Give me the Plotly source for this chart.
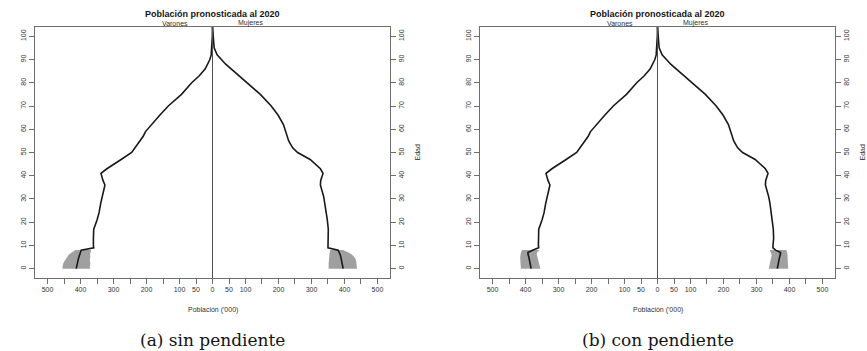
import plotly.graph_objects as go

# ---------------- data (thousands of people) ----------------
AGES_YOUNG = [0, 1, 2, 3, 4, 5, 6, 7, 8]
AGES_OLD = [9, 10, 13, 17, 21, 24, 28, 31, 33, 35, 36, 38, 40, 41, 43, 45, 47, 50,
            52, 55, 57, 59, 62, 66, 70, 75, 80, 83, 86, 88, 90, 92, 95, 98, 100, 104]

MALE_OLD = [360, 361, 361, 360, 350, 344, 339, 334, 330, 326, 326, 332, 337, 338, 320, 297, 277, 245,
            235, 220, 210, 203, 185, 160, 134, 94, 63, 40, 22, 15, 8, 4, 2, 1, 0.5, 0]
FEMALE_OLD = [350, 350, 352, 351, 348, 345, 341, 337, 333, 329, 327, 328, 333, 335, 327, 313, 296, 258,
              243, 231, 227, 221, 215, 199, 178, 145, 105, 78, 56, 40, 27, 14, 5, 3, 1.5, 0]

# panel (a) sin pendiente
MALE_A_YOUNG = [413, 412, 410, 409, 407, 405, 403, 401, 398]
FEMALE_A_YOUNG = [396, 395, 394, 392, 391, 389, 387, 385, 381]
MALE_A_LOW = [371, 372, 370, 371, 372, 370, 371, 370, 368]
MALE_A_HIGH = [455, 455, 453, 450, 446, 442, 436, 427, 415]
FEMALE_A_LOW = [352, 352, 352, 353, 353, 354, 354, 355, 357]
FEMALE_A_HIGH = [438, 438, 437, 436, 434, 430, 423, 412, 396]

# panel (b) con pendiente
MALE_B_YOUNG = [383, 384, 386, 387, 389, 390, 392, 393, 377]
FEMALE_B_YOUNG = [363, 364, 366, 367, 369, 370, 372, 373, 358]
MALE_B_LOW = [355, 356, 358, 360, 362, 364, 366, 365, 358]
MALE_B_HIGH = [414, 415, 416, 416, 416, 416, 415, 414, 410]
FEMALE_B_LOW = [337, 338, 339, 341, 343, 345, 346, 344, 340]
FEMALE_B_HIGH = [396, 396, 396, 396, 395, 395, 394, 393, 390]

X_TICKS = list(range(-500, 501, 50))
X_LABELED = [500, 400, 300, 200, 100, 50, 0]
Y_TICKS = list(range(0, 101, 10))

TITLE = "Población pronosticada al 2020"
CAPTIONS = ["(a) sin pendiente", "(b) con pendiente"]

# ---------------- figure ----------------
W, H = 867, 351
BAND = "rgb(160,160,160)"
LINE = "rgb(25,25,25)"
AXC = "rgb(110,110,110)"
TXC = "rgb(50,50,50)"
SANS = "Liberation Sans, Arial, sans-serif"

fig = go.Figure()

panels = [
    dict(xa="x", ya="y", ya2="y2", male_young=MALE_A_YOUNG, female_young=FEMALE_A_YOUNG,
         ml=MALE_A_LOW, mh=MALE_A_HIGH, fl=FEMALE_A_LOW, fh=FEMALE_A_HIGH, px=(35, 390)),
    dict(xa="x2", ya="y3", ya2="y4", male_young=MALE_B_YOUNG, female_young=FEMALE_B_YOUNG,
         ml=MALE_B_LOW, mh=MALE_B_HIGH, fl=FEMALE_B_LOW, fh=FEMALE_B_HIGH, px=(480, 835)),
]

for p in panels:
    # uncertainty bands for the youngest ages
    for lo, hi, sign in [(p["ml"], p["mh"], -1), (p["fl"], p["fh"], 1)]:
        xs = [sign * v for v in hi] + [sign * v for v in lo[::-1]]
        ys = AGES_YOUNG + AGES_YOUNG[::-1]
        fig.add_trace(go.Scatter(x=xs, y=ys, fill="toself", fillcolor=BAND, mode="lines",
                                 line=dict(width=0, color=BAND), xaxis=p["xa"], yaxis=p["ya"],
                                 showlegend=False, hoverinfo="skip"))
    # pyramid lines (female line on the right-hand twin axis, same range)
    ages = AGES_YOUNG + AGES_OLD
    male = [-v for v in p["male_young"] + MALE_OLD]
    female = p["female_young"] + FEMALE_OLD
    for vals, ya in ((male, p["ya"]), (female, p["ya2"])):
        fig.add_trace(go.Scatter(x=vals, y=ages, mode="lines",
                                 line=dict(color=LINE, width=1.6),
                                 xaxis=p["xa"], yaxis=ya, showlegend=False))

ticktext = [str(abs(v)) if abs(v) in X_LABELED else "" for v in X_TICKS]

def xaxis_def(px, anchor):
    return dict(domain=[px[0] / W, px[1] / W], range=[-538, 538], anchor=anchor,
                tickvals=X_TICKS, ticktext=ticktext, ticks="outside", ticklen=5,
                tickcolor=AXC, showline=True, linecolor=AXC, linewidth=1, mirror=True,
                showgrid=False, zeroline=False, tickfont=dict(size=7, color=TXC, family=SANS),
                fixedrange=True, automargin=False)

YDOM = [(H - 278) / H, (H - 27) / H]

def yaxis_def(anchor, side="left", overlay=None):
    d = dict(domain=YDOM, range=[-4, 104], anchor=anchor, side=side,
             tickvals=Y_TICKS, ticks="outside", ticklen=5, tickcolor=AXC, tickangle=-90,
             showline=True, linecolor=AXC, linewidth=1, showgrid=False, zeroline=False,
             tickfont=dict(size=7, color=TXC, family=SANS), fixedrange=True, automargin=False)
    if overlay:
        d["overlaying"] = overlay
    return d

fig.update_layout(
    width=W, height=H, margin=dict(l=0, r=0, t=0, b=0, autoexpand=False),
    paper_bgcolor="white", plot_bgcolor="white",
    xaxis=xaxis_def(panels[0]["px"], "y"),
    xaxis2=xaxis_def(panels[1]["px"], "y3"),
    yaxis=yaxis_def("x"),
    yaxis2=yaxis_def("x", "right", "y"),
    yaxis3=yaxis_def("x2"),
    yaxis4=yaxis_def("x2", "right", "y3"),
)

annotations = []
shapes = []
for p, cap in zip(panels, CAPTIONS):
    xa = p["xa"]
    shapes.append(dict(type="line", xref=xa, yref=f"{p['ya']} domain", x0=0, x1=0, y0=0, y1=1,
                       line=dict(color="rgb(80,80,80)", width=1)))
    annotations += [
        dict(text=f"<b>{TITLE}</b>", x=0, xref=xa, y=1 - 14 / H, yref="paper", showarrow=False,
             font=dict(size=9, color="rgb(20,20,20)", family=SANS), xanchor="center", yanchor="middle"),
        dict(text="Varones", x=-115, xref=xa, y=1 - 23 / H, yref="paper", showarrow=False,
             font=dict(size=7, color=TXC, family=SANS), xanchor="center", yanchor="middle"),
        dict(text="Mujeres", x=115, xref=xa, y=1 - 23 / H, yref="paper", showarrow=False,
             font=dict(size=7, color=TXC, family=SANS), xanchor="center", yanchor="middle"),
        dict(text="Población ('000)", x=0, xref=xa, y=1 - 310 / H, yref="paper", showarrow=False,
             font=dict(size=7, color=TXC, family=SANS), xanchor="center", yanchor="middle"),
        dict(text="Edad", x=(p["px"][1] + 27) / W, xref="paper", y=50, yref=p["ya"], showarrow=False,
             textangle=-90, font=dict(size=7, color=TXC, family=SANS), xanchor="center", yanchor="middle"),
        dict(text=cap, x=0, xref=xa, y=1 - 340 / H, yref="paper", showarrow=False,
             font=dict(size=17, color="rgb(20,20,20)", family="DejaVu Serif, serif"),
             xanchor="center", yanchor="middle"),
    ]

fig.update_layout(annotations=annotations, shapes=shapes)
fig.write_html("out.html", config={"displayModeBar": False},
               post_script="document.body.style.margin='0';")
